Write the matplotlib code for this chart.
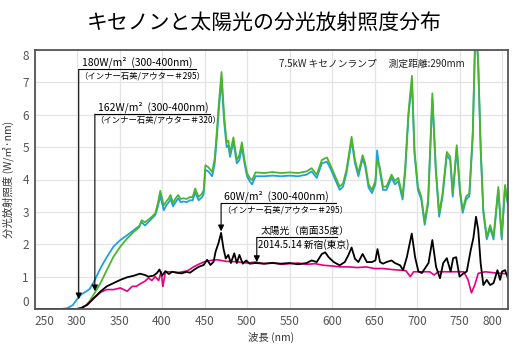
import matplotlib
matplotlib.use('Agg')
import matplotlib.pyplot as plt

plt.rcParams['font.family'] = ['Noto Sans CJK JP', 'DejaVu Sans']

# xenon lamp, inner quartz / outer #295 (blue) and #320 (green)
wl_xe = [250, 280, 288, 295, 300, 305, 310, 315, 320, 328, 335, 343, 351, 359, 367, 373,
         376, 380, 386, 392, 395, 398, 402, 405, 408, 410, 413, 416, 419, 422, 425, 429,
         433, 436, 439, 443, 447, 449, 451, 454.5, 459, 462, 464.5, 467, 470, 473, 476,
         478, 480, 484, 488, 491, 494, 497, 500, 503, 506, 510, 520, 530, 540, 550, 560,
         570, 576, 582, 588, 594, 598, 604, 609, 613, 617, 620, 623, 627, 631, 636, 639,
         643, 647, 651, 653, 656, 660, 664, 670, 674, 678, 683, 686, 690, 694, 697, 701,
         705, 709, 713, 716, 718, 722, 726, 730, 735, 739, 742, 746.7, 750.6, 753.7,
         757.6, 761.5, 765.5, 769, 772, 775, 778, 782, 786, 790, 795.6, 799.6, 803.5, 807]
xe295 = [0, 0, 0.02, 0.12, 0.3, 0.45, 0.53, 0.62, 0.85, 1.28, 1.6, 1.93, 2.13, 2.28, 2.44, 2.56,
         2.68, 2.58, 2.74, 2.9, 3.15, 3.5, 3.05, 3.2, 3.3, 3.4, 3.17, 3.3, 3.42, 3.3, 3.32, 3.3,
         3.36, 3.35, 3.6, 3.36, 3.45, 3.55, 4.3, 4.25, 4.1, 4.5, 5.3, 6.2, 7.1, 5.8, 5.0,
         5.05, 4.7, 5.15, 4.5, 4.6, 5.0, 4.5, 4.1, 3.95, 3.85, 4.1, 4.1, 4.12, 4.1, 4.12, 4.1,
         4.15, 4.25, 4.05, 4.5, 4.55, 4.35, 3.98, 3.68, 3.78, 4.2, 4.7, 5.2, 4.5, 4.1, 4.65, 4.4,
         3.75, 3.58, 3.85, 4.9, 4.3, 3.68, 3.68, 4.05, 3.85, 3.95, 3.38, 4.2, 6.0, 7.0, 4.8, 3.68,
         3.38, 2.6, 3.25, 5.2, 6.5, 4.3, 2.85, 3.47, 4.75, 4.6, 3.47, 4.95, 3.57, 2.97,
         3.38, 3.48, 5.3, 9.0, 7.5, 4.8, 2.97, 2.15, 2.5, 2.15, 3.68, 2.15, 3.75, 3.2]
xe320 = [0, 0, 0, 0, 0, 0.02, 0.1, 0.25, 0.46, 0.82, 1.2, 1.62, 1.93, 2.18, 2.39, 2.52,
         2.74, 2.68, 2.8, 2.95, 3.25, 3.65, 3.2, 3.32, 3.42, 3.52, 3.27, 3.42, 3.52, 3.4, 3.42, 3.4,
         3.46, 3.45, 3.72, 3.46, 3.56, 3.67, 4.44, 4.38, 4.23, 4.65, 5.5, 6.4, 7.32, 6.0, 5.15,
         5.2, 4.8, 5.3, 4.6, 4.75, 5.15, 4.6, 4.2, 4.05, 3.98, 4.22, 4.2, 4.23, 4.2, 4.22, 4.2,
         4.25, 4.35, 4.15, 4.6, 4.68, 4.45, 4.08, 3.78, 3.88, 4.3, 4.8, 5.32, 4.6, 4.2, 4.75, 4.5,
         3.85, 3.68, 3.95, 4.6, 4.4, 3.78, 3.78, 4.15, 3.95, 4.05, 3.47, 4.35, 6.1, 7.2, 4.9, 3.78,
         3.47, 2.69, 3.36, 5.3, 6.66, 4.4, 2.95, 3.57, 4.85, 4.7, 3.57, 5.06, 3.67, 3.06,
         3.47, 3.57, 5.42, 9.0, 7.6, 4.9, 3.06, 2.23, 2.59, 2.23, 3.77, 2.23, 3.83, 3.27]

# sunlight (south 35 deg), 2014.5.14 Shinjuku
wl_sun = [250, 300, 305, 312, 320, 328, 335, 343, 351, 359, 367, 374, 380, 384, 390, 394,
          397, 400, 404, 408, 412, 417, 423, 429, 433, 437, 443, 449, 453, 457, 460.7, 463,
          466.6, 469.5, 472.4, 475, 478, 481, 485, 488, 491, 495, 499, 503, 510, 520, 530,
          540, 550, 560, 570, 576, 582, 588, 592, 596, 602, 609, 615, 619, 623, 627, 631,
          636, 641, 647, 651, 653.5, 656.5, 660, 664, 670, 674, 680, 683.6, 688, 693.8,
          697.7, 701.6, 705.6, 709.5, 713.5, 718, 722.4, 727, 730.8, 735, 739.5, 742.5, 746,
          750, 754.6, 758.5, 763, 766.3, 769.4, 772, 774.8, 778, 782, 786, 790, 794.6,
          797.7, 800, 803.5, 807]
sun = [0, 0, 0.03, 0.13, 0.34, 0.55, 0.7, 0.8, 0.9, 0.98, 1.03, 1.09, 1.05, 1.0, 1.03, 1.11,
       1.22, 1.03, 1.17, 1.08, 1.15, 1.12, 1.1, 1.15, 1.12, 1.2, 1.3, 1.36, 1.52, 1.36, 1.46, 1.77,
       2.05, 2.35, 1.85, 1.56, 1.67, 1.42, 1.72, 1.42, 1.67, 1.4, 1.5, 1.4, 1.42, 1.4, 1.42,
       1.4, 1.42, 1.38, 1.42, 1.5, 1.45, 1.7, 1.75, 1.6, 1.45, 1.35, 1.45, 1.65, 1.9, 1.55, 1.45,
       1.7, 1.45, 1.45, 1.5, 1.85, 1.45, 1.4, 1.45, 1.5, 1.42, 1.35, 1.2, 1.6, 2.33,
       1.6, 1.16, 1.11, 1.26, 1.42, 2.13, 1.3, 0.95, 1.42, 1.57, 1.16, 1.57, 1.6,
       1.0, 1.1, 1.16, 1.8, 2.2, 2.85, 2.44, 1.42, 0.74, 0.9, 0.74, 0.8, 1.2,
       0.9, 1.16, 1.2, 0.95]

wl_ref = [250, 300, 305, 312, 320, 328, 335, 343, 351, 359, 365, 370, 374.5, 380, 384, 388,
          392, 396, 399, 401, 404, 410, 420, 430, 437, 443, 449, 457, 465, 476, 488, 500,
          510, 520, 530, 540, 550, 560, 570, 580, 590, 600, 610, 620, 630, 640, 650, 660,
          670, 680, 687, 692, 696, 705, 715, 720, 725, 740, 755, 760, 764, 768, 772, 780,
          790, 800, 807]
ref = [0, 0, 0.03, 0.13, 0.34, 0.52, 0.6, 0.6, 0.65, 0.55, 0.7, 0.7, 0.78, 0.86, 0.96, 0.88,
       1.0, 0.88, 1.15, 0.7, 1.15, 1.15, 1.13, 1.18, 1.3, 1.38, 1.45, 1.5, 1.52, 1.47, 1.46, 1.42,
       1.45, 1.4, 1.43, 1.38, 1.4, 1.42, 1.38, 1.4, 1.35, 1.33, 1.3, 1.3, 1.28, 1.3, 1.25, 1.25,
       1.22, 1.2, 1.18, 1.0, 1.15, 1.15, 1.15, 1.05, 1.15, 1.15, 1.15, 0.9, 0.5, 0.75, 1.1, 1.15,
       1.12, 1.1, 1.08]

xticks = [250, 300, 350, 400, 450, 500, 550, 600, 650, 700, 750, 800]
yticks = [0, 1, 2, 3, 4, 5, 6, 7, 8]

fig = plt.figure(figsize=(5.29, 3.5), dpi=100)
ax = fig.add_axes([34.5/529, 41/350, 473.5/529, 259/350])

ax.plot(wl_xe, xe295, color='#1ea0e6', lw=1.3)
ax.plot(wl_xe, xe320, color='#4cb52f', lw=1.3)
ax.plot(wl_ref, ref, color='#e5007e', lw=1.2)
ax.plot(wl_sun, sun, color='black', lw=1.3)

ax.set_xlim(250, 807)
ax.set_ylim(0, 8)
ax.set_xticks(xticks)
ax.set_yticks(yticks)
ax.grid(True, color='#e4e4e4', lw=0.9)
ax.set_axisbelow(True)
ax.tick_params(length=0, labelsize=8.5, labelcolor='#555555', pad=4)
xl = ax.get_xticklabels()
xl[0].set_ha('left')
xl[-1].set_ha('right')
yl = ax.get_yticklabels()
yl[0].set_va('bottom')
yl[-1].set_va('top')
for s in ax.spines.values():
    s.set_color('#555555')
    s.set_linewidth(1.3)

ax.set_xlabel('波長 (nm)', fontsize=7.5, color='#333333', labelpad=3)
ax.set_ylabel('分光放射照度 (W/㎡·nm)', fontsize=7.5, color='#333333', labelpad=6)
fig.text(0.5, 0.935, 'キセノンと太陽光の分光放射照度分布', ha='center', va='center', fontsize=15)

ax.text(538, 7.56, '7.5kW キセノンランプ　 測定距離:290mm', fontsize=7, va='center', color='#222222')


def callout(xt, yt, ytop, xend, line1, line2, s1=7.5, s2=6):
    ax.annotate('', xy=(xt, yt), xytext=(xt, ytop),
                arrowprops=dict(arrowstyle='-|>', color='black', lw=0.8,
                                mutation_scale=9, shrinkA=0, shrinkB=0))
    ax.plot([xt, xend], [ytop, ytop], color='black', lw=0.8)
    ax.text(xt + 4, ytop + 0.04, line1, fontsize=s1, va='bottom', ha='left')
    ax.text(xt + 1, ytop - 0.05, line2, fontsize=s2, va='top', ha='left')


callout(302, 0.3, 7.40, 440, '180W/m²  (300-400nm)', '（インナー石英/アウター＃295）')
callout(321, 0.55, 6.02, 457, '162W/m²  (300-400nm)', '（インナー石英/アウター＃320）')
callout(469.5, 2.4, 3.26, 605, '60W/m²  (300-400nm)', '（インナー石英/アウター＃295）')
callout(511.5, 1.45, 2.21, 606, '太陽光（南面35度）', '2014.5.14 新宿(東京)', 7, 7)

fig.savefig('out.png', dpi=100)
